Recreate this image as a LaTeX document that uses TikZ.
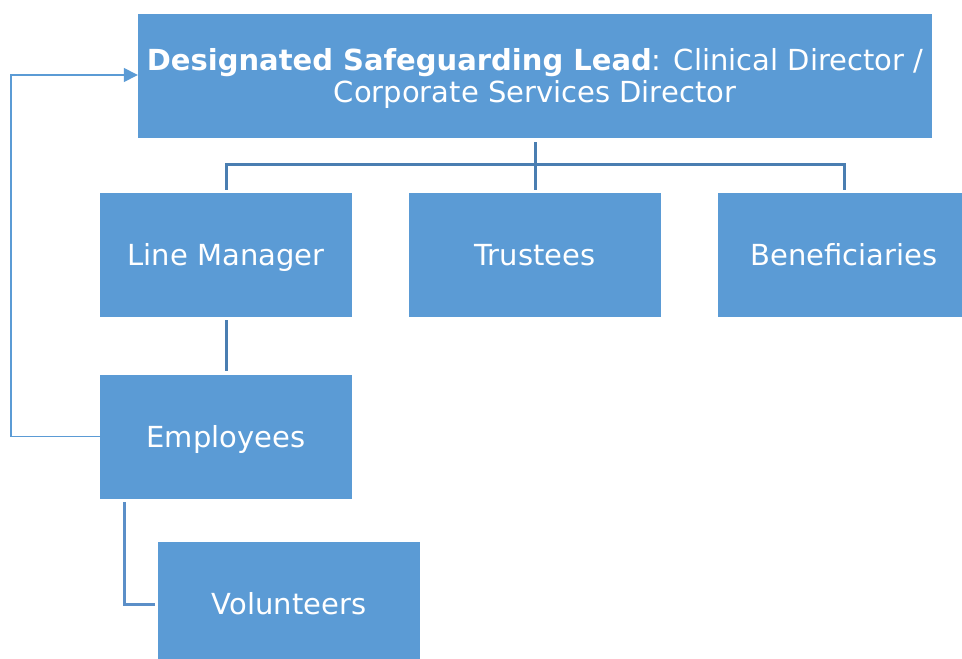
\documentclass[tikz,border=0pt]{standalone}
\usepackage{fontspec}
\setmainfont{DejaVu Sans}
\usetikzlibrary{arrows.meta}
\definecolor{boxblue}{HTML}{5B9BD5}
\definecolor{treeblue}{HTML}{4A7EB1}
\definecolor{volline}{HTML}{5B8FC8}
\begin{document}
\begin{tikzpicture}[x=1pt,y=-1pt,
  box/.style={fill=boxblue,draw=none,text=white,inner sep=0pt,minimum width=252pt,minimum height=124pt,font=\fontsize{29}{32}\selectfont,align=center,text height=21pt,text depth=0pt},
  tree/.style={draw=treeblue,line width=3pt},
  vline/.style={draw=volline,line width=3pt},
  back/.style={draw=boxblue,line width=1.5pt,-{Triangle[length=14pt,width=14pt]}}]
\useasboundingbox (0,0) rectangle (962,659);
\node[box,minimum width=794pt,text height=53pt] (top) at (535,76) {\textbf{Designated Safeguarding Lead}: Clinical Director /\\Corporate Services Director};
\node[box] (lm) at (226,255) {Line Manager};
\node[box] (tr) at (535,255) {Trustees};
\node[box] (be) at (844,255) {Beneficiaries};
\node[box] (em) at (226,436.5) {Employees};
\node[box,minimum width=262pt] (vo) at (289,604) {Volunteers};
\coordinate (hb) at (535,164);
\draw[tree] ([yshift=-4pt]top.south) -- ([yshift=3pt]tr.north);
\draw[tree] ([yshift=3pt]lm.north) |- (hb) -| ([yshift=3pt]be.north);
\draw[tree] ([yshift=-3pt]lm.south) -- ([yshift=3pt]em.north);
\coordinate (vc) at (124,604);
\draw[vline] (124,502) -- (vc) -- ([xshift=-3pt]vo.west);
\coordinate (ac) at (11,75);
\draw[back] (em.west) -| (ac) -- (top.west |- ac);
\end{tikzpicture}
\end{document}
